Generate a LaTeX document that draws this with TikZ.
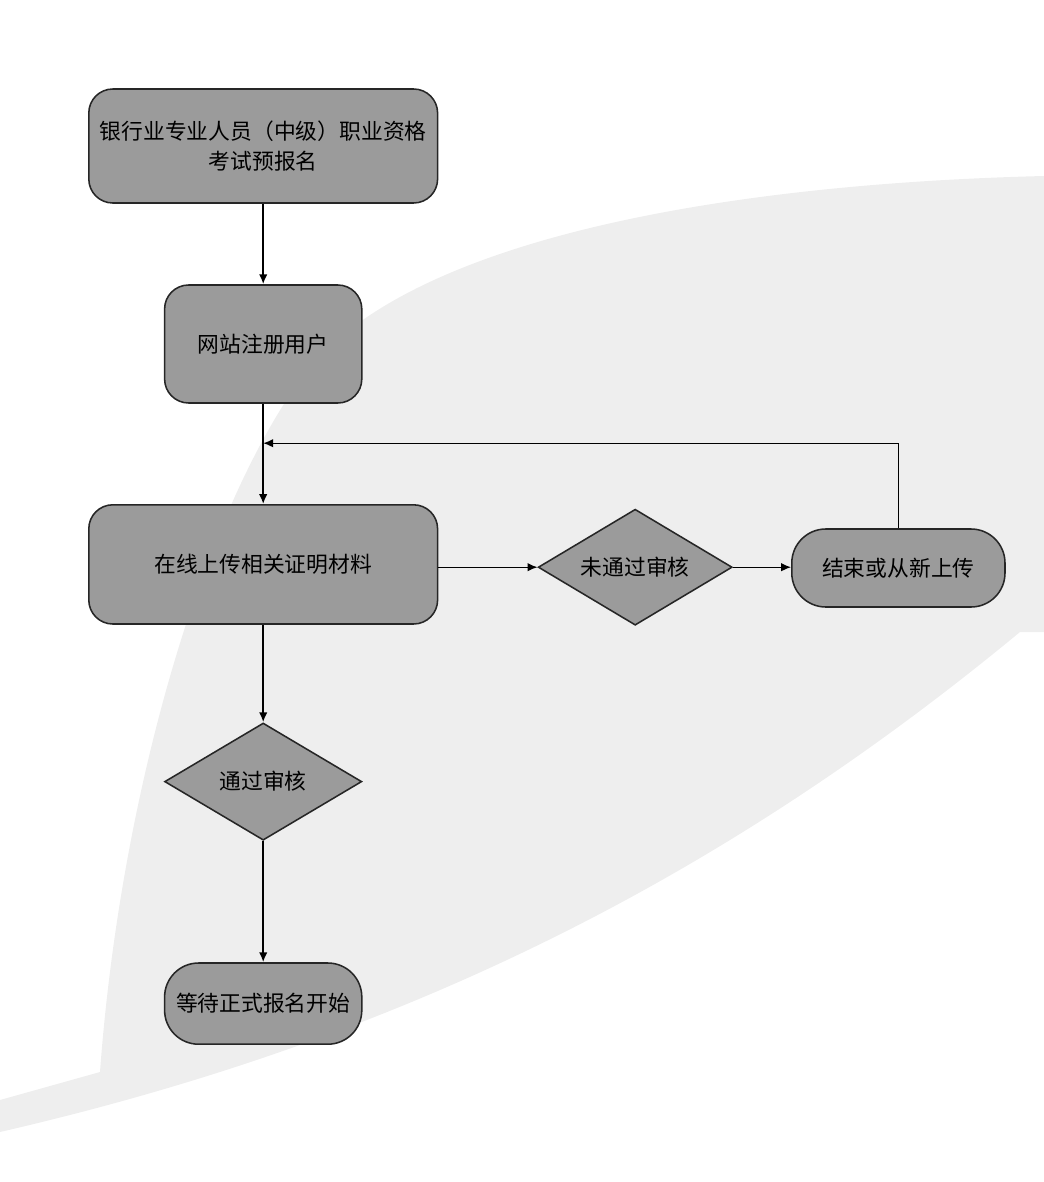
\documentclass[tikz,border=0pt]{standalone}
\usepackage{fontspec}
\newfontfamily\cjk{Noto Sans CJK SC}
\usetikzlibrary{arrows.meta}
\usetikzlibrary{shapes.geometric}
\definecolor{boxgray}{RGB}{155,155,155}
\definecolor{bandgray}{RGB}{238,238,238}
\tikzset{every node/.style={font=\cjk\fontsize{15.5}{21}\selectfont, draw=black!85, line width=1.1pt, fill=boxgray, inner sep=2pt}}
\tikzset{stepbox/.style={rectangle, rounded corners=0.6cm}}
\tikzset{checkbox/.style={diamond, aspect=1.7, inner sep=0pt}}
\tikzset{endbox/.style={rectangle, rounded corners=0.85cm}}
\tikzset{flow/.style={-{Latex[length=7pt,width=6pt]}, line width=1.3pt}}

\begin{document}
\begin{tikzpicture}
		\useasboundingbox (0,0) rectangle (26.1,-29.55);
		\fill[bandgray] (26.1,-4.4) .. controls (18,-4.6) and (10,-6) .. (7.5,-9.5)
			.. controls (5,-13) and (3,-20) .. (2.5,-26.8) -- (0,-27.5) -- (0,-28.3)
			.. controls (10,-26) and (18,-22) .. (25.5,-15.8) -- (26.1,-15.8) -- cycle;
		\node[stepbox, minimum width=8.72cm, minimum height=2.85cm, align=center] (apply) at (6.58,-3.65) {银行业专业人员（中级）职业资格\\考试预报名};
		\node[stepbox, minimum width=4.93cm, minimum height=2.95cm] (register) at (6.58,-8.6) {网站注册用户};
		\node[stepbox, minimum width=8.72cm, minimum height=2.98cm] (upload) at (6.58,-14.11) {在线上传相关证明材料};
		\node[checkbox, minimum width=4.85cm, minimum height=2.9cm] (fail) at (15.88,-14.18) {未通过审核};
		\node[endbox, minimum width=5.33cm, minimum height=1.95cm] (retry) at (22.46,-14.2) {结束或从新上传};
		\node[checkbox, minimum width=4.93cm, minimum height=2.93cm] (pass) at (6.58,-19.54) {通过审核};
		\node[endbox, minimum width=4.93cm, minimum height=2.03cm] (wait) at (6.58,-25.09) {等待正式报名开始};
		\coordinate (loop) at (6.58,-11.08);
		\draw[flow] (apply) -- (register);
		\draw[flow] (register) -- (upload);
		\draw[flow, line width=0.9pt] (retry.north) |- (loop);
		\draw[flow, line width=0.9pt] (upload.east |- fail.west) -- (fail.west);
		\draw[flow, line width=0.9pt] (fail.east) -- (fail.east -| retry.west);
		\draw[flow] (upload) -- (pass);
		\draw[flow] (pass) -- (wait);
\end{tikzpicture}
\end{document}
